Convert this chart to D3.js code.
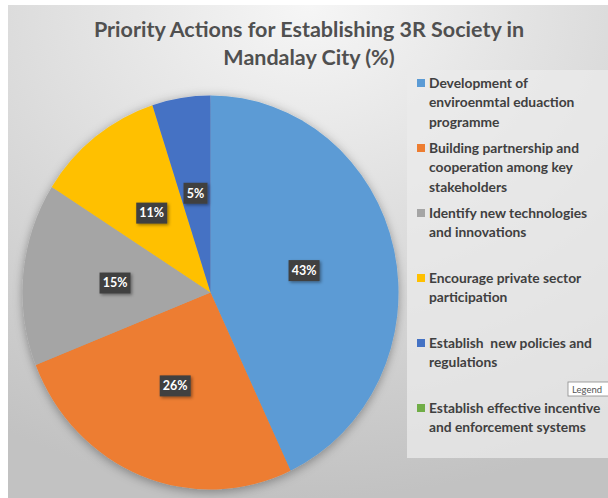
<!DOCTYPE html>
<html>
<head>
<meta charset="utf-8">
<script src="https://cdn.jsdelivr.net/npm/d3@7"></script>
<style>
  body { margin: 0; background: #fff; }
  text { font-family: Lato, "Open Sans", sans-serif; }
</style>
</head>
<body>
<div id="pie"></div>
<script>
const categories = [
  ["Development of", "enviroenmtal eduaction", "programme"],
  ["Building partnership and", "cooperation among key", "stakeholders"],
  ["Identify new technologies", "and innovations"],
  ["Encourage private sector", "participation"],
  ["Establish  new policies and", "regulations"],
  ["Establish effective incentive", "and enforcement systems"]
];
const values = [43, 26, 15, 11, 5, 0];
const colors = ["#5B9BD5", "#ED7D31", "#A5A5A5", "#FFC000", "#4472C4", "#70AD47"];
const titleLines = ["Priority Actions for Establishing 3R Society in", "Mandalay City (%)"];

const drawPie = () => {

  /*******************************/
  /*    Declare the constants    */
  /*******************************/
  const width = 608;
  const height = 498;
  const cx = 210.5;
  const cy = 292.5;
  const rx = 188;
  const ry = 197;

  const svg = d3.select("#pie")
    .append("svg")
    .attr("width", width)
    .attr("height", height);

  const defs = svg.append("defs");
  const grad = defs.append("radialGradient")
    .attr("id", "bg")
    .attr("cx", "50%").attr("cy", "0%")
    .attr("r", "100%");
  grad.append("stop").attr("offset", "0%").attr("stop-color", "#f6f6f6");
  grad.append("stop").attr("offset", "100%").attr("stop-color", "#c2c2c2");

  const shadow = defs.append("filter")
    .attr("id", "shadow")
    .attr("x", "-20%").attr("y", "-20%")
    .attr("width", "140%").attr("height", "140%");
  shadow.append("feDropShadow")
    .attr("dx", 0).attr("dy", 2)
    .attr("stdDeviation", 5)
    .attr("flood-color", "#000")
    .attr("flood-opacity", 0.35);

  const boxShadow = defs.append("filter")
    .attr("id", "boxShadow")
    .attr("x", "-30%").attr("y", "-30%")
    .attr("width", "170%").attr("height", "170%");
  boxShadow.append("feDropShadow")
    .attr("dx", 1.5).attr("dy", 1.5)
    .attr("stdDeviation", 1.5)
    .attr("flood-color", "#000")
    .attr("flood-opacity", 0.4);

  // background
  svg.append("rect")
    .attr("x", 8).attr("y", 5)
    .attr("width", width - 8).attr("height", height - 5)
    .attr("fill", "url(#bg)");

  // title
  svg.append("g")
    .selectAll("text")
    .data(titleLines)
    .join("text")
    .attr("x", 309)
    .attr("y", (d, i) => 37 + i * 28)
    .attr("text-anchor", "middle")
    .attr("font-size", 21.5)
    .attr("font-weight", "bold")
    .attr("fill", "#505050")
    .text(d => d);

  /*******************************/
  /*          The pie            */
  /*******************************/
  const pie = d3.pie().sort(null).value(d => d);
  const arcs = pie(values);
  const arc = d3.arc().innerRadius(0).outerRadius(rx);

  const pieGroup = svg.append("g")
    .attr("transform", `translate(${cx}, ${cy}) scale(1, ${ry / rx})`)
    .attr("filter", "url(#shadow)");

  pieGroup.selectAll("path")
    .data(arcs)
    .join("path")
    .attr("d", arc)
    .attr("fill", (d, i) => colors[i]);

  const labelArc = d3.arc().innerRadius(rx * 0.51).outerRadius(rx * 0.51);

  const labels = svg.append("g")
    .selectAll("g")
    .data(arcs.filter(d => d.value > 0))
    .join("g")
    .attr("transform", d => {
      const [x, y] = labelArc.centroid(d);
      return `translate(${cx + x}, ${cy + y * ry / rx})`;
    });

  labels.append("rect")
    .attr("x", d => d.value < 10 ? -12 : -15.5)
    .attr("y", -10.5)
    .attr("width", d => d.value < 10 ? 24 : 31)
    .attr("height", 21)
    .attr("fill", "#404040")
    .attr("filter", "url(#boxShadow)");

  labels.append("text")
    .attr("text-anchor", "middle")
    .attr("dy", "0.35em")
    .attr("font-size", 12.5)
    .attr("font-weight", "bold")
    .attr("fill", "#fff")
    .text(d => `${d.value}%`);

  /*******************************/
  /*          Legend             */
  /*******************************/
  svg.append("rect")
    .attr("x", 407).attr("y", 70)
    .attr("width", width - 407).attr("height", 388)
    .attr("fill", "#ebebeb")
    .attr("fill-opacity", 0.75);

  const legend = svg.append("g")
    .selectAll("g")
    .data(categories)
    .join("g")
    .attr("transform", (d, i) => `translate(417, ${83 + i * 65})`);

  legend.append("rect")
    .attr("x", 0).attr("y", -4)
    .attr("width", 8).attr("height", 8)
    .attr("fill", (d, i) => colors[i]);

  legend.append("text")
    .attr("x", 12)
    .attr("font-size", 13.8)
    .attr("font-weight", "bold")
    .attr("fill", "#404040")
    .style("white-space", "pre")
    .selectAll("tspan")
    .data(d => d)
    .join("tspan")
    .attr("x", 12)
    .attr("y", (d, i) => i * 19.5)
    .attr("dy", "0.35em")
    .text(d => d);

  // tooltip left over from the screenshot
  const tip = svg.append("g").attr("transform", "translate(568, 382)");
  tip.append("rect")
    .attr("width", 42).attr("height", 14)
    .attr("fill", "#fff")
    .attr("stroke", "#8a8a8a")
    .attr("stroke-width", 0.8);
  tip.append("text")
    .attr("x", 4).attr("y", 10.5)
    .attr("font-size", 9.5)
    .attr("fill", "#555")
    .text("Legend");
};

drawPie();
</script>
</body>
</html>
